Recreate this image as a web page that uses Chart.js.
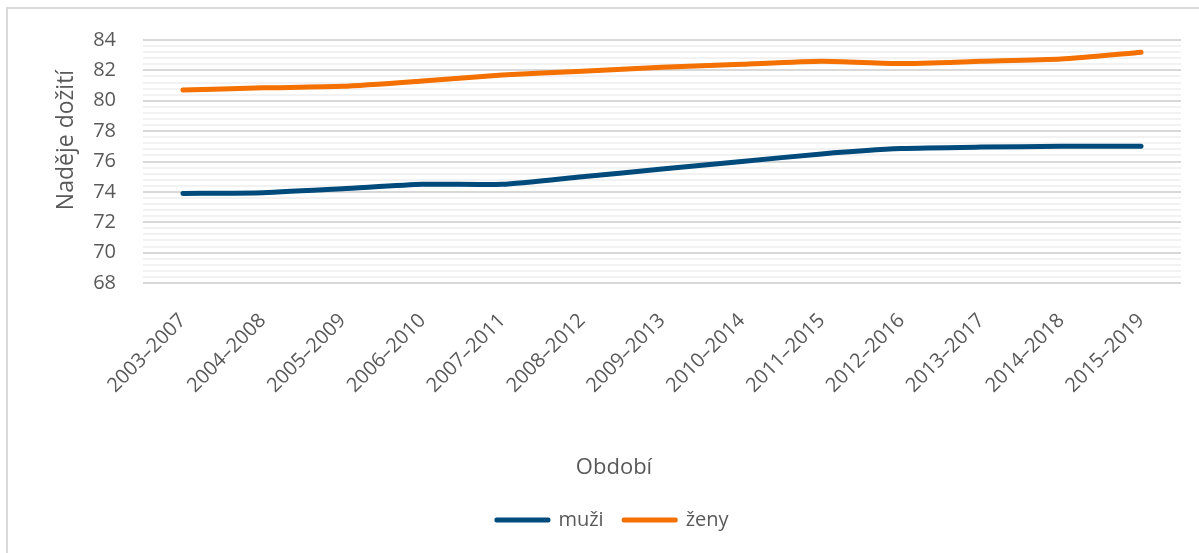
<!DOCTYPE html>
<html>
<head>
<meta charset="utf-8">
<script src="https://cdn.jsdelivr.net/npm/chart.js@4"></script>
<style>
    html, body { margin: 0; padding: 0; background: #fff; overflow: hidden; }
    #frame {
        position: absolute; left: 6px; top: 7px; width: 1210px; height: 560px;
        border: 2px solid #d9d9d9; box-sizing: border-box;
    }
    #wrap { position: absolute; left: 0; top: 0; width: 1199px; height: 553px; }
</style>
</head>
<body>
<div id="frame"></div>
<div id="wrap"><canvas id="lifeChart" width="1199" height="553"></canvas></div>
<script>
// Data
const periods = ['2003–2007', '2004–2008', '2005–2009', '2006–2010', '2007–2011', '2008–2012',
    '2009–2013', '2010–2014', '2011–2015', '2012–2016', '2013–2017', '2014–2018', '2015–2019'];
const muzi = [73.9, 73.95, 74.2, 74.5, 74.5, 75.0, 75.5, 76.0, 76.5, 76.85, 76.95, 77.0, 77.0];
const zeny = [80.7, 80.85, 80.95, 81.3, 81.7, 81.95, 82.2, 82.4, 82.6, 82.45, 82.6, 82.75, 83.2];
const yMin = 68, yMax = 84, yMajor = 2, yMinor = 0.4;
const yTitle = 'Naděje dožití';
const xTitle = 'Období';

const textColor = '#595959';
const fontFamily = '"Open Sans", "Noto Sans", sans-serif';

function isMajor(v) {
    return Math.abs(v / yMajor - Math.round(v / yMajor)) < 1e-6;
}

// Axis titles drawn by hand so they sit where the original has them
const axisTitles = {
    id: 'axisTitles',
    afterDraw(chart) {
        const c = chart.ctx;
        c.save();
        c.fillStyle = textColor;
        c.textAlign = 'center';
        c.textBaseline = 'middle';
        c.font = '23px ' + fontFamily;
        c.translate(66, 140);
        c.rotate(-Math.PI / 2);
        c.fillText(yTitle, 0, 0);
        c.restore();

        c.save();
        c.fillStyle = textColor;
        c.textAlign = 'center';
        c.textBaseline = 'middle';
        c.font = '22px ' + fontFamily;
        c.fillText(xTitle, 614, 468);
        c.restore();
    }
};

document.addEventListener('DOMContentLoaded', function() {
    const ctx = document.getElementById('lifeChart');
    new Chart(ctx, {
        type: 'line',
        data: {
            labels: periods,
            datasets: [
                {
                    label: 'muži',
                    data: muzi,
                    borderColor: '#004b7c',
                    backgroundColor: '#004b7c',
                    borderWidth: 5,
                    borderCapStyle: 'round',
                    pointRadius: 0,
                    tension: 0.2,
                    fill: false
                },
                {
                    label: 'ženy',
                    data: zeny,
                    borderColor: '#f47000',
                    backgroundColor: '#f47000',
                    borderWidth: 5,
                    borderCapStyle: 'round',
                    pointRadius: 0,
                    tension: 0.2,
                    fill: false
                }
            ]
        },
        plugins: [axisTitles],
        options: {
            responsive: false,
            animation: false,
            layout: { padding: { left: 44, right: 18, top: 40, bottom: 13 } },
            scales: {
                x: {
                    offset: true,
                    grid: { display: false, drawTicks: false },
                    border: { display: false },
                    ticks: {
                        color: textColor,
                        font: { family: fontFamily, size: 20 },
                        maxRotation: 45,
                        minRotation: 45,
                        autoSkip: false,
                        padding: 26
                    },
                    afterFit: function(scale) { scale.height = 207; }
                },
                y: {
                    min: yMin,
                    max: yMax,
                    grid: {
                        drawTicks: false,
                        lineWidth: 2,
                        color: function(c) {
                            return isMajor(c.tick.value) ? '#d9d9d9' : '#f2f2f2';
                        }
                    },
                    border: { display: false },
                    ticks: {
                        stepSize: yMinor,
                        autoSkip: false,
                        color: textColor,
                        font: { family: fontFamily, size: 20 },
                        padding: 27,
                        callback: function(value) {
                            return isMajor(value) ? Math.round(value).toString() : '';
                        }
                    },
                    afterFit: function(scale) { scale.width = 99; }
                }
            },
            plugins: {
                legend: {
                    position: 'bottom',
                    labels: {
                        color: textColor,
                        font: { family: fontFamily, size: 20 },
                        boxWidth: 52,
                        boxHeight: 1,
                        padding: 20,
                        generateLabels: function(chart) {
                            const items = Chart.defaults.plugins.legend.labels.generateLabels(chart);
                            items.forEach(item => {
                                item.lineWidth = 4;
                                item.lineJoin = 'round';
                                item.fillStyle = item.strokeStyle;
                            });
                            return items;
                        }
                    }
                },
                tooltip: { enabled: false }
            }
        }
    });
});
</script>
</body>
</html>
